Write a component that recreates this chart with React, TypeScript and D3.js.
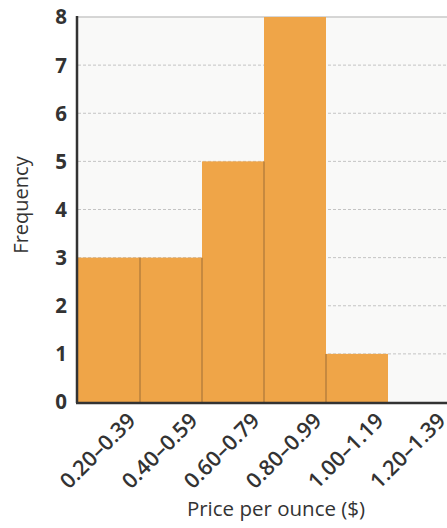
import React from "react";
import * as d3 from "d3";

const categories = ["0.20–0.39", "0.40–0.59", "0.60–0.79", "0.80–0.99", "1.00–1.19", "1.20–1.39"];
const frequencies = [3, 3, 5, 8, 1, 0];
const yTicks = [0, 1, 2, 3, 4, 5, 6, 7, 8];

export default function App() {
  const W = 447, H = 528;
  const left = 78, right = 450, top = 17, bottom = 402;
  const x = d3.scaleBand<string>().domain(categories).range([left, right]).padding(0);
  const y = d3.scaleLinear().domain([0, 8]).range([bottom, top]);
  const bw = x.bandwidth();
  const font = "'Open Sans', 'Noto Sans', sans-serif";
  return (
    <svg width={W} height={H} style={{ position: "absolute", left: 0, top: 0, display: "block" }}>
      <rect x={0} y={0} width={W} height={H} fill="#fff" />
      <rect x={left} y={top} width={right - left} height={bottom - top} fill="#f9f9f8" />
      {yTicks.filter(t => t > 0 && t < 8).map(t => (
        <line key={t} x1={left} x2={right} y1={y(t)} y2={y(t)} stroke="#c4c4c4" strokeWidth={1} strokeDasharray="3,2" />
      ))}
      <line x1={left} x2={right} y1={y(8)} y2={y(8)} stroke="#c8c8c8" strokeWidth={1.5} />
      {categories.map((c, i) => frequencies[i] > 0 && (
        <rect key={c} x={x(c)!} y={y(frequencies[i])} width={bw} height={bottom - y(frequencies[i])} fill="#efa548" />
      ))}
      {categories.slice(1).map((c, i) => {
        const h = Math.min(frequencies[i], frequencies[i + 1]);
        if (h <= 0) return null;
        return <line key={c} x1={x(c)!} x2={x(c)!} y1={y(h)} y2={bottom} stroke="#b8803c" strokeWidth={1.5} />;
      })}
      <line x1={left - 1} x2={left - 1} y1={top - 1} y2={bottom + 1} stroke="#333" strokeWidth={2.5} />
      <line x1={left - 2} x2={right} y1={bottom + 1} y2={bottom + 1} stroke="#333" strokeWidth={2.5} />
      {yTicks.map(t => (
        <text key={t} x={67} y={y(t)} dy="0.36em" textAnchor="end" fontFamily={font} fontWeight={700} fontSize={20.5} fill="#333">{t}</text>
      ))}
      {categories.map(c => {
        const cx = x(c)! + bw / 2 + 28;
        const cy = 422;
        return (
          <text key={c} transform={`translate(${cx},${cy}) rotate(-45)`} textAnchor="end" fontFamily={font} fontWeight={600} fontSize={21.5} fill="#333">{c}</text>
        );
      })}
      <text transform={`translate(28,205) rotate(-90)`} textAnchor="middle" fontFamily={font} fontSize={20} fill="#333">Frequency</text>
      <text x={276} y={516} textAnchor="middle" fontFamily={font} fontSize={20.5} fill="#333">Price per ounce ($)</text>
    </svg>
  );
}
